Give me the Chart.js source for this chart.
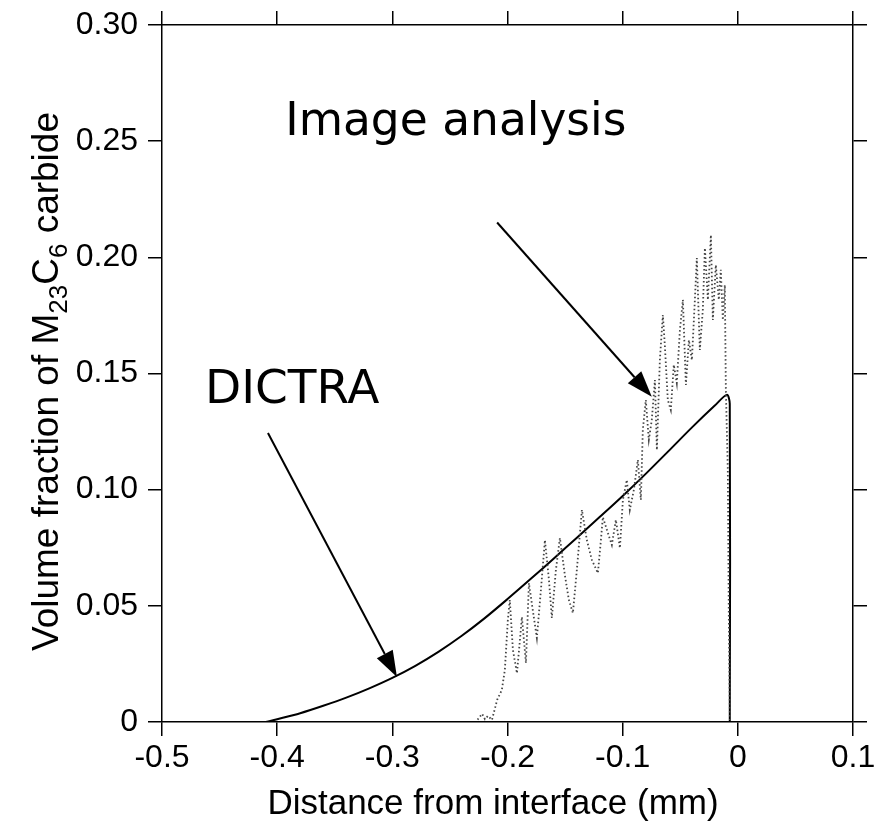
<!DOCTYPE html>
<html>
<head>
<meta charset="utf-8">
<script src="https://cdn.jsdelivr.net/npm/chart.js@4.4.1/dist/chart.umd.min.js"></script>
<style>
    html, body { margin: 0; padding: 0; background: #fff; }
    #wrap { width: 877px; height: 835px; }
</style>
</head>
<body>
<div id="wrap"><canvas id="carbideChart" width="877" height="835"></canvas></div>
<script>
// ==================== Data ====================
// Axis ticks
const xTicks = [-0.5, -0.4, -0.3, -0.2, -0.1, 0, 0.1];
const xTickLabels = ['-0.5', '-0.4', '-0.3', '-0.2', '-0.1', '0', '0.1'];
const yTicks = [0, 0.05, 0.10, 0.15, 0.20, 0.25, 0.30];
const yTickLabels = ['0', '0.05', '0.10', '0.15', '0.20', '0.25', '0.30'];

// DICTRA simulation (distance mm, volume fraction)
const dictraX = [-0.41, -0.40, -0.38, -0.36, -0.34, -0.32, -0.30, -0.28, -0.26, -0.24, -0.22, -0.20,
    -0.18, -0.16, -0.14, -0.12, -0.10, -0.08, -0.06, -0.04, -0.02, -0.0095, -0.007, -0.007];
const dictraY = [0, 0.0012, 0.0038, 0.0070, 0.0105, 0.0145, 0.0190, 0.0242, 0.0302, 0.0370, 0.0446, 0.0529,
    0.0615, 0.0703, 0.0792, 0.0882, 0.0973, 0.1068, 0.1167, 0.1267, 0.1362, 0.1408, 0.1370, 0];

// Image analysis measurement (distance mm, volume fraction)
const imageX = [-0.226, -0.222, -0.2196, -0.217, -0.2135, -0.209, -0.2049, -0.2023, -0.1997, -0.198,
    -0.1953, -0.1918, -0.1892, -0.1875, -0.184, -0.1814, -0.178, -0.1745, -0.171, -0.1675,
    -0.164, -0.1615, -0.158, -0.1545, -0.1502, -0.1467, -0.1432, -0.1398, -0.1354, -0.1311,
    -0.1267, -0.1215, -0.1189, -0.1172, -0.1137, -0.1094, -0.1059, -0.1024, -0.0998, -0.0964,
    -0.0938, -0.0903, -0.0868, -0.0842, -0.0825, -0.0799, -0.0773, -0.0747, -0.072, -0.0703,
    -0.0677, -0.0651, -0.0634, -0.0608, -0.0582, -0.0556, -0.053, -0.0503, -0.0477, -0.0451,
    -0.0425, -0.0399, -0.0373, -0.0356, -0.033, -0.0304, -0.0286, -0.026, -0.0234, -0.0217,
    -0.0191, -0.0165, -0.0148, -0.013, -0.0113, -0.0104, -0.0087, -0.0078, -0.0069];
const imageY = [0.001, 0.0035, 0.0012, 0.0026, 0.0009, 0.0095, 0.0138, 0.0224, 0.0439, 0.0525,
    0.031, 0.021, 0.0353, 0.0452, 0.0254, 0.0598, 0.048, 0.0362, 0.0568, 0.0783,
    0.0611, 0.0448, 0.0654, 0.0792, 0.0633, 0.0525, 0.0469, 0.0654, 0.0913, 0.0783,
    0.0697, 0.0641, 0.0783, 0.0882, 0.0827, 0.0762, 0.087, 0.0749, 0.0956, 0.1042,
    0.0913, 0.0999, 0.1128, 0.0956, 0.1257, 0.1386, 0.1214, 0.13, 0.1472, 0.1171,
    0.1558, 0.1752, 0.1623, 0.1386, 0.1343, 0.1537, 0.1459, 0.1687, 0.1817, 0.1451,
    0.1644, 0.1558, 0.1817, 0.1997, 0.1601, 0.1774, 0.204, 0.1817, 0.2096, 0.173,
    0.1967, 0.1817, 0.1946, 0.173, 0.1881, 0.1429, 0.1085, 0.0439, 0.0009];

// Arrow annotations in data units: [fromX, fromY, toX, toY]
const imageArrow = [-0.209, 0.215, -0.0747, 0.140];
const dictraArrow = [-0.408, 0.1244, -0.296, 0.0194];

const toPoints = (xs, ys) => xs.map((x, i) => ({ x: x, y: ys[i] }));

// ==================== Plugins ====================
// Labels with arrows pointing to the curves
const annotationPlugin = {
    id: 'curveLabels',
    afterDatasetsDraw(chart) {
        const { ctx, scales: { x, y } } = chart;

        function arrow(a) {
            const x1 = x.getPixelForValue(a[0]), y1 = y.getPixelForValue(a[1]);
            const x2 = x.getPixelForValue(a[2]), y2 = y.getPixelForValue(a[3]);
            const ang = Math.atan2(y2 - y1, x2 - x1);
            const headLen = 26, headW = 9;
            const bx = x2 - headLen * Math.cos(ang), by = y2 - headLen * Math.sin(ang);
            ctx.save();
            ctx.strokeStyle = '#000';
            ctx.fillStyle = '#000';
            ctx.lineWidth = 2;
            ctx.beginPath();
            ctx.moveTo(x1, y1);
            ctx.lineTo(bx, by);
            ctx.stroke();
            ctx.beginPath();
            ctx.moveTo(x2, y2);
            ctx.lineTo(bx + headW * Math.sin(ang), by - headW * Math.cos(ang));
            ctx.lineTo(bx - headW * Math.sin(ang), by + headW * Math.cos(ang));
            ctx.closePath();
            ctx.fill();
            ctx.restore();
        }

        arrow(imageArrow);
        arrow(dictraArrow);

        ctx.save();
        ctx.fillStyle = '#000';
        ctx.textBaseline = 'alphabetic';
        ctx.textAlign = 'left';
        ctx.font = '45.5px "DejaVu Sans"';
        ctx.fillText('Image analysis', x.getPixelForValue(-0.393), y.getPixelForValue(0.2527));
        ctx.font = '47px "DejaVu Sans"';
        ctx.fillText('DICTRA', x.getPixelForValue(-0.4627), y.getPixelForValue(0.1373));
        ctx.restore();
    }
};

// Axis titles (the y title needs subscripts, so both are drawn here)
const axisTitlePlugin = {
    id: 'axisTitles',
    afterDraw(chart) {
        const ctx = chart.ctx;
        const font = '"Liberation Sans", Arial, sans-serif';

        ctx.save();
        ctx.fillStyle = '#000';
        ctx.textAlign = 'center';
        ctx.textBaseline = 'alphabetic';
        ctx.font = '35px ' + font;
        ctx.fillText('Distance from interface (mm)', 493, 814);
        ctx.restore();

        const size = 37, sub = 26;
        const parts = [
            { t: 'Volume fraction of M', s: false },
            { t: '23', s: true },
            { t: 'C', s: false },
            { t: '6', s: true },
            { t: ' carbide', s: false }
        ];
        ctx.save();
        let total = 0;
        parts.forEach(p => {
            ctx.font = (p.s ? sub : size) + 'px ' + font;
            p.w = ctx.measureText(p.t).width;
            total += p.w;
        });
        const cy = (chart.chartArea.top + chart.chartArea.bottom) / 2 + 8;
        ctx.translate(58, cy);
        ctx.rotate(-Math.PI / 2);
        ctx.fillStyle = '#000';
        ctx.textAlign = 'left';
        ctx.textBaseline = 'alphabetic';
        let pos = -total / 2;
        parts.forEach(p => {
            ctx.font = (p.s ? sub : size) + 'px ' + font;
            ctx.fillText(p.t, pos, p.s ? 9 : 0);
            pos += p.w;
        });
        ctx.restore();
    }
};

// ==================== Chart ====================
const axisGrid = { drawOnChartArea: false, drawTicks: true, tickLength: 14, color: '#000', lineWidth: 1.5 };
const axisBorder = { display: true, color: '#000', width: 1.5 };
const tickFont = { family: '"Liberation Sans", Arial, sans-serif', size: 32 };

function fixTicks(values) {
    return function (scale) {
        scale.ticks = values.map(v => ({ value: v }));
    };
}

// fixed box sizes so the plot frame lands at 162..853 x 25..722
function fitBox(size) {
    return function (scale) {
        if (scale.isHorizontal()) {
            scale.height = size;
        } else {
            scale.width = size;
        }
        scale.paddingTop = 0;
        scale.paddingBottom = 0;
        scale.paddingLeft = 0;
        scale.paddingRight = 0;
    };
}

new Chart(document.getElementById('carbideChart'), {
    type: 'scatter',
    data: {
        datasets: [
            {
                label: 'Image analysis',
                data: toPoints(imageX, imageY),
                showLine: true,
                borderColor: '#444',
                borderWidth: 1.8,
                borderDash: [1.5, 2.5],
                pointRadius: 0,
                tension: 0
            },
            {
                label: 'DICTRA',
                data: toPoints(dictraX, dictraY),
                showLine: true,
                borderColor: '#000',
                borderWidth: 2,
                pointRadius: 0,
                tension: 0.3
            }
        ]
    },
    options: {
        responsive: false,
        animation: false,
        devicePixelRatio: 1,
        layout: { padding: 0 },
        plugins: { legend: { display: false }, tooltip: { enabled: false } },
        scales: {
            x: {
                type: 'linear', position: 'bottom', min: -0.5, max: 0.1,
                afterBuildTicks: fixTicks(xTicks),
                afterFit: fitBox(113),
                grid: axisGrid, border: axisBorder,
                ticks: { color: '#000', font: tickFont, padding: 3, maxRotation: 0,
                    callback: (v, i) => xTickLabels[i] }
            },
            xTop: {
                type: 'linear', position: 'top', min: -0.5, max: 0.1,
                afterBuildTicks: fixTicks(xTicks),
                afterFit: fitBox(25),
                grid: axisGrid, border: axisBorder,
                ticks: { display: false }
            },
            y: {
                type: 'linear', position: 'left', min: 0, max: 0.30,
                afterBuildTicks: fixTicks(yTicks),
                afterFit: fitBox(162),
                grid: axisGrid, border: axisBorder,
                ticks: { color: '#000', font: tickFont, padding: 10,
                    callback: (v, i) => yTickLabels[i] }
            },
            yRight: {
                type: 'linear', position: 'right', min: 0, max: 0.30,
                afterBuildTicks: fixTicks(yTicks),
                afterFit: fitBox(24),
                grid: axisGrid, border: axisBorder,
                ticks: { display: false }
            }
        }
    },
    plugins: [annotationPlugin, axisTitlePlugin]
});
</script>
</body>
</html>
